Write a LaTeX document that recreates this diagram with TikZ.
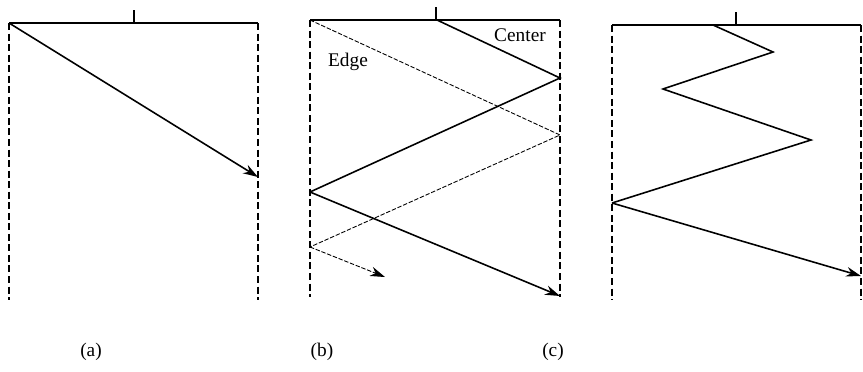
\documentclass[tikz,border=0pt]{standalone}
\usepackage{fontspec}
\setmainfont{Liberation Serif}
\usetikzlibrary{arrows.meta, positioning}
\tikzset{
  wall/.style={line width=0.8pt, dash pattern=on 4pt off 2pt},
  top/.style={line width=0.9pt},
  ray/.style={line width=0.9pt},
  edgeray/.style={line width=0.5pt, dash pattern=on 2.5pt off 1pt},
  arrow/.style={-{Stealth[length=8.5pt, width=5.5pt]}},
  lbl/.style={font=\fontsize{11}{13}\selectfont, inner sep=0pt}
}

\begin{document}
\begin{tikzpicture}[x=0.02cm, y=-0.02cm]
            \useasboundingbox (0,0) rectangle (863,372);

            % Panel (a)
            \coordinate (aTL) at (9,23);
            \coordinate (aTR) at (258,23);
            \coordinate (aBL) at (9,300);
            \coordinate (aBR) at (258,300);
            \coordinate (aTick) at (134,10);
            \coordinate (aHit) at (258,177);
            \draw [top] (aTL) -- (aTR);
            \draw [top] (aTick) -- (aTick |- aTL);
            \draw [wall] (aTL) -- (aBL);
            \draw [wall] (aTR) -- (aBR);
            \draw [ray, arrow] (aTL) -- (aHit);

            % Panel (b)
            \coordinate (bTL) at (310,20);
            \coordinate (bTR) at (560,20);
            \coordinate (bBL) at (310,297);
            \coordinate (bBR) at (560,297);
            \coordinate (bTick) at (436,7);
            \coordinate (bC0) at (437,20);
            \coordinate (bC1) at (560,78);
            \coordinate (bC2) at (310,192);
            \coordinate (bC3) at (560,296);
            \coordinate (bE1) at (560,135);
            \coordinate (bE2) at (310,247);
            \coordinate (bE3) at (385,277);
            \draw [top] (bTL) -- (bTR);
            \draw [top] (bTick) -- (bTick |- bTL);
            \draw [wall] (bTL) -- (bBL);
            \draw [wall] (bTR) -- (bBR);
            \draw [ray] (bC0) -- (bC1) -- (bC2);
            \draw [ray, arrow] (bC2) -- (bC3);
            \draw [edgeray] (bTL) -- (bE1) -- (bE2);
            \draw [edgeray, arrow] (bE2) -- (bE3);
            \node (center) [lbl] at (520,35) {Center};
            \node (edge) [lbl] at (348,62) {Edge};

            % Panel (c)
            \coordinate (cTL) at (612,25);
            \coordinate (cTR) at (861,25);
            \coordinate (cBL) at (612,300);
            \coordinate (cBR) at (861,300);
            \coordinate (cTick) at (736,12);
            \coordinate (cZ0) at (713,25);
            \coordinate (cZ1) at (773,52);
            \coordinate (cZ2) at (663,89);
            \coordinate (cZ3) at (811,140);
            \coordinate (cZ4) at (612,203);
            \coordinate (cZ5) at (861,276);
            \draw [top] (cTL) -- (cTR);
            \draw [top] (cTick) -- (cTick |- cTL);
            \draw [wall] (cTL) -- (cBL);
            \draw [wall] (cTR) -- (cBR);
            \draw [ray] (cZ0) -- (cZ1) -- (cZ2) -- (cZ3) -- (cZ4);
            \draw [ray, arrow] (cZ4) -- (cZ5);

            % Captions
            \node (capa) [lbl] at (91,352) {(a)};
            \node (capb) [lbl] at (322,352) {(b)};
            \node (capc) [lbl] at (553,352) {(c)};

        \end{tikzpicture}
\end{document}
